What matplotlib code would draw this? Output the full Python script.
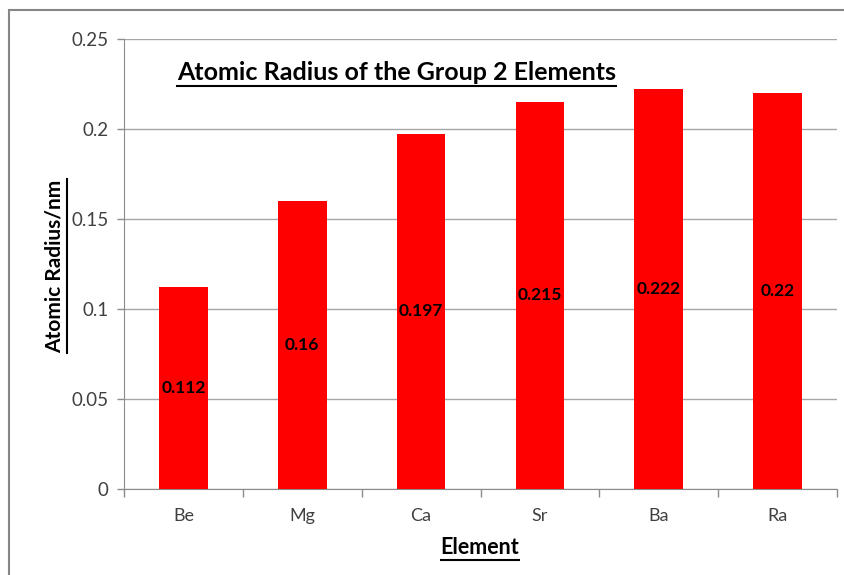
import matplotlib
matplotlib.use("Agg")
import matplotlib.pyplot as plt
from matplotlib.lines import Line2D
from matplotlib.patches import Rectangle
import numpy as np

elements = ["Be", "Mg", "Ca", "Sr", "Ba", "Ra"]
radius = [0.112, 0.16, 0.197, 0.215, 0.222, 0.22]
yticks = [0, 0.05, 0.1, 0.15, 0.2, 0.25]
ytick_labels = ["0", "0.05", "0.1", "0.15", "0.2", "0.25"]

plt.rcParams['font.family'] = ['Lato', 'DejaVu Sans']

fig = plt.figure(figsize=(8.44, 5.75), dpi=100)
ax = fig.add_axes([124/844, 1-488.5/575, (837-124)/844, (488.5-38.5)/575])

# outer chart border (Excel style)
fig.patches.append(Rectangle((9/844, -0.1), 1.2, 1-10/575+0.1, transform=fig.transFigure,
                             fill=False, edgecolor='#868686', linewidth=1.5))

x = np.arange(len(elements))
ax.bar(x, radius, width=0.41, color='#ff0000', zorder=3)
for xi, v in zip(x, radius):
    ax.text(xi, v/2, f"{v:g}", ha='center', va='center', fontsize=12.5, fontweight='bold', color='black', zorder=4)

ax.set_xlim(-0.5, 5.5)
ax.set_ylim(0, 0.25)
ax.set_yticks(yticks)
ax.set_yticklabels(ytick_labels)
ax.set_xticks(x)
ax.set_xticklabels(elements)
ax.set_xticks(np.arange(-0.5, 6, 1), minor=True)
ax.tick_params(axis='x', which='major', length=0, pad=14, labelsize=13, labelcolor='#404040')
ax.tick_params(axis='x', which='minor', length=6, color='#8c8c8c', width=1)
ax.tick_params(axis='y', length=5, color='#8c8c8c', width=1, pad=6, labelsize=13.5, labelcolor='#404040')
ax.grid(axis='y', color='#a6a6a6', linewidth=1, zorder=0)
for s in ['top', 'right']:
    ax.spines[s].set_visible(False)
for s in ['left', 'bottom']:
    ax.spines[s].set_color('#8c8c8c')

title = fig.text(177/844, 1-73/575, "Atomic Radius of the Group 2 Elements", ha='left', va='center',
                 fontsize=18, fontweight='bold')
ylab = fig.text(55/844, 1-266/575, "Atomic Radius/nm", rotation=90, ha='center', va='center',
                fontsize=15, fontweight='bold')
xlab = fig.text(480/844, 1-548/575, "Element", ha='center', va='center',
                fontsize=15.5, fontweight='bold')

# underline the three labels
fig.canvas.draw()
r = fig.canvas.get_renderer()
inv = fig.transFigure.inverted()
for t, vertical in [(title, False), (xlab, False), (ylab, True)]:
    bb = t.get_window_extent(renderer=r)
    (x0, y0), (x1, y1) = inv.transform([(bb.x0, bb.y0), (bb.x1, bb.y1)])
    if vertical:
        xx = x1 + 1.5/844
        fig.lines.append(Line2D([xx, xx], [y0, y1], transform=fig.transFigure, color='black', lw=1.5))
    else:
        yy = y0 - 1/575
        fig.lines.append(Line2D([x0, x1], [yy, yy], transform=fig.transFigure, color='black', lw=1.5))

fig.savefig("out.png", dpi=100)
